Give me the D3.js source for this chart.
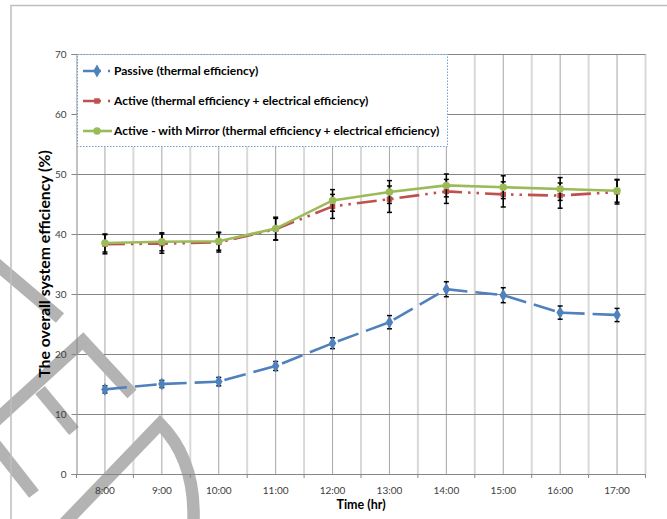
<!DOCTYPE html>
<html>
<head>
<meta charset="utf-8">
<script src="https://cdn.jsdelivr.net/npm/d3@7/dist/d3.min.js"></script>
<style>
  html, body { margin: 0; padding: 0; background: #fff; }
  svg { display: block; }
  text { font-family: Lato, "Open Sans", sans-serif; }
</style>
</head>
<body>
<svg id="chart" width="667" height="519"></svg>
<script>
// Hourly readings, 8:00 to 17:00
const times = ["8:00", "9:00", "10:00", "11:00", "12:00", "13:00", "14:00", "15:00", "16:00", "17:00"];

// Overall system efficiency (%) and error-bar half widths
const passive    = [14.1, 15.0, 15.4, 18.0, 21.8, 25.3, 30.8, 29.8, 26.9, 26.5];
const passiveErr = [0.6, 0.6, 0.7, 0.75, 0.9, 1.1, 1.25, 1.25, 1.1, 1.1];
const active     = [38.3, 38.4, 38.6, 40.8, 44.6, 45.8, 47.1, 46.6, 46.4, 47.0];
const activeErr  = [1.6, 1.6, 1.6, 1.8, 2.0, 2.2, 2.0, 2.1, 2.1, 2.0];
const mirror     = [38.5, 38.7, 38.8, 40.9, 45.6, 47.0, 48.1, 47.8, 47.5, 47.2];
const mirrorErr  = [1.5, 1.5, 1.5, 1.9, 1.8, 1.9, 1.9, 1.9, 1.9, 1.9];

const yTicks = [0, 10, 20, 30, 40, 50, 60, 70];

const seriesNames = [
  "Passive (thermal efficiency)",
  "Active (thermal efficiency + electrical efficiency)",
  "Active - with Mirror (thermal efficiency + electrical efficiency)"
];

const series = [
  { name: seriesNames[0], values: passive, errs: passiveErr, color: "#4f81bd",
    dash: "22,8", symbol: d3.symbolDiamond, size: 48 },
  { name: seriesNames[1], values: active, errs: activeErr, color: "#c0504d",
    dash: "20,6,2.5,6,2.5,6", symbol: d3.symbolSquare, size: 30 },
  { name: seriesNames[2], values: mirror, errs: mirrorErr, color: "#9bbb59",
    dash: null, symbol: d3.symbolCircle, size: 44 }
];

const svg = d3.select("#chart");
const plot = { left: 76.5, right: 645.5, top: 54, bottom: 474 };

const x = d3.scaleBand().domain(times).range([plot.left, plot.right]);
const cx = t => x(t) + x.bandwidth() / 2;
const y = d3.scaleLinear().domain([0, 70]).range([plot.bottom, plot.top]);

// Gridlines: light lines between hours, darker lines on the hours, horizontal majors
const grid = svg.append("g");
grid.selectAll("line.between")
  .data(times.slice(1).concat(["end"]))
  .join("line")
  .attr("x1", (d, i) => plot.left + (i + 1) * x.bandwidth())
  .attr("x2", (d, i) => plot.left + (i + 1) * x.bandwidth())
  .attr("y1", plot.top).attr("y2", plot.bottom)
  .attr("stroke", "#d9d9d9").attr("stroke-width", 2);
grid.selectAll("line.hour")
  .data(times)
  .join("line")
  .attr("x1", d => cx(d)).attr("x2", d => cx(d))
  .attr("y1", plot.top).attr("y2", plot.bottom)
  .attr("stroke", "#a6a6a6").attr("stroke-width", 1);
grid.selectAll("line.major")
  .data(yTicks.slice(1))
  .join("line")
  .attr("x1", plot.left).attr("x2", plot.right)
  .attr("y1", d => y(d) + 0.5).attr("y2", d => y(d) + 0.5)
  .attr("stroke", "#868686").attr("stroke-width", 1);

// Faint stamp lettering over the lower-left corner
const stamp = svg.append("g")
  .attr("fill", "none").attr("stroke", "#b3b3b3").attr("stroke-width", 12.5)
  .attr("stroke-linejoin", "miter").attr("stroke-linecap", "butt");
stamp.append("path").attr("d", "M-6,262 L60,318");
stamp.append("path").attr("d", "M-8,424 L83,341 L132,394");
stamp.append("path").attr("d", "M40,390 L74,431");
stamp.append("path").attr("d", "M-6,443 L34,494");
stamp.append("path").attr("d", "M58,530 L160,424 Q198,462 193,530");

// Y axis
const yAxis = svg.append("g")
  .attr("transform", `translate(${plot.left},0)`)
  .call(d3.axisLeft(y).tickValues(yTicks).tickSize(5).tickPadding(5).tickFormat(d3.format("d")));
yAxis.select(".domain").attr("stroke", "#868686");
yAxis.selectAll(".tick line").attr("stroke", "#868686");
yAxis.selectAll(".tick text")
  .attr("fill", "#404040").style("font-size", "10px").style("font-family", "Lato, sans-serif");

// X axis: tick marks sit between the hours
const xAxis = svg.append("g")
  .attr("transform", `translate(0,${plot.bottom})`)
  .call(d3.axisBottom(x).tickSize(0).tickPadding(13));
xAxis.select(".domain").attr("stroke", "#868686");
xAxis.selectAll(".tick text")
  .attr("fill", "#404040").style("font-size", "10px").style("font-family", "Lato, sans-serif");
xAxis.selectAll("line.between")
  .data(d3.range(times.length + 1))
  .join("line")
  .attr("x1", i => plot.left + i * x.bandwidth())
  .attr("x2", i => plot.left + i * x.bandwidth())
  .attr("y1", 0).attr("y2", 4)
  .attr("stroke", "#868686");

// Axis titles
svg.append("text")
  .attr("transform", `translate(50,${(plot.top + plot.bottom) / 2}) rotate(-90)`)
  .attr("text-anchor", "middle")
  .style("font-size", "15.8px").style("font-weight", "bold").attr("fill", "#000")
  .text("The overall system efficiency (%)");
svg.append("text")
  .attr("x", (plot.left + plot.right) / 2).attr("y", 509)
  .attr("text-anchor", "middle")
  .style("font-size", "12.5px").style("font-weight", "bold").attr("fill", "#000")
  .text("Time (hr)");

// Series lines, error bars and markers
const line = d3.line().x((d, i) => cx(times[i])).y(d => y(d));
series.forEach(s => {
  const g = svg.append("g");
  g.append("path")
    .datum(s.values)
    .attr("d", line)
    .attr("fill", "none")
    .attr("stroke", s.color).attr("stroke-width", 2.6)
    .attr("stroke-dasharray", s.dash);
  const eb = g.append("g").attr("stroke", "#000").attr("stroke-width", 1.5);
  s.values.forEach((v, i) => {
    const px = cx(times[i]);
    const hi = y(v + s.errs[i]), lo = y(v - s.errs[i]);
    eb.append("line").attr("x1", px).attr("x2", px).attr("y1", hi).attr("y2", lo);
    eb.append("line").attr("x1", px - 2.5).attr("x2", px + 2.5).attr("y1", hi).attr("y2", hi);
    eb.append("line").attr("x1", px - 2.5).attr("x2", px + 2.5).attr("y1", lo).attr("y2", lo);
  });
  g.selectAll("path.mark")
    .data(s.values)
    .join("path")
    .attr("transform", (d, i) => `translate(${cx(times[i])},${y(d)})`)
    .attr("d", d3.symbol().type(s.symbol).size(s.size))
    .attr("fill", s.color);
});

// Legend
const legend = svg.append("g");
legend.append("rect")
  .attr("x", 77.5).attr("y", 54.5).attr("width", 370).attr("height", 92)
  .attr("fill", "#fff")
  .attr("stroke", "#6f9fd8").attr("stroke-width", 1).attr("stroke-dasharray", "1.5,1.5");
series.forEach((s, i) => {
  const ly = 71 + i * 30;
  const row = legend.append("g");
  row.append("line")
    .attr("x1", 83).attr("x2", 112).attr("y1", ly).attr("y2", ly)
    .attr("stroke", s.color).attr("stroke-width", 2.6)
    .attr("stroke-dasharray", s.dash ? "18,7,2,20" : null);
  row.append("path")
    .attr("transform", `translate(97,${ly})`)
    .attr("d", d3.symbol().type(s.symbol).size(s.size))
    .attr("fill", s.color);
  row.append("text")
    .attr("x", 114).attr("y", ly).attr("dy", "0.36em")
    .style("font-size", "12px").style("font-weight", "bold").attr("fill", "#000")
    .text(s.name);
});

// Outer chart frame
svg.append("rect")
  .attr("x", 11).attr("y", 5.5).attr("width", 700).attr("height", 560)
  .attr("fill", "none").attr("stroke", "#bfbfbf").attr("stroke-width", 1.5);
</script>
</body>
</html>
